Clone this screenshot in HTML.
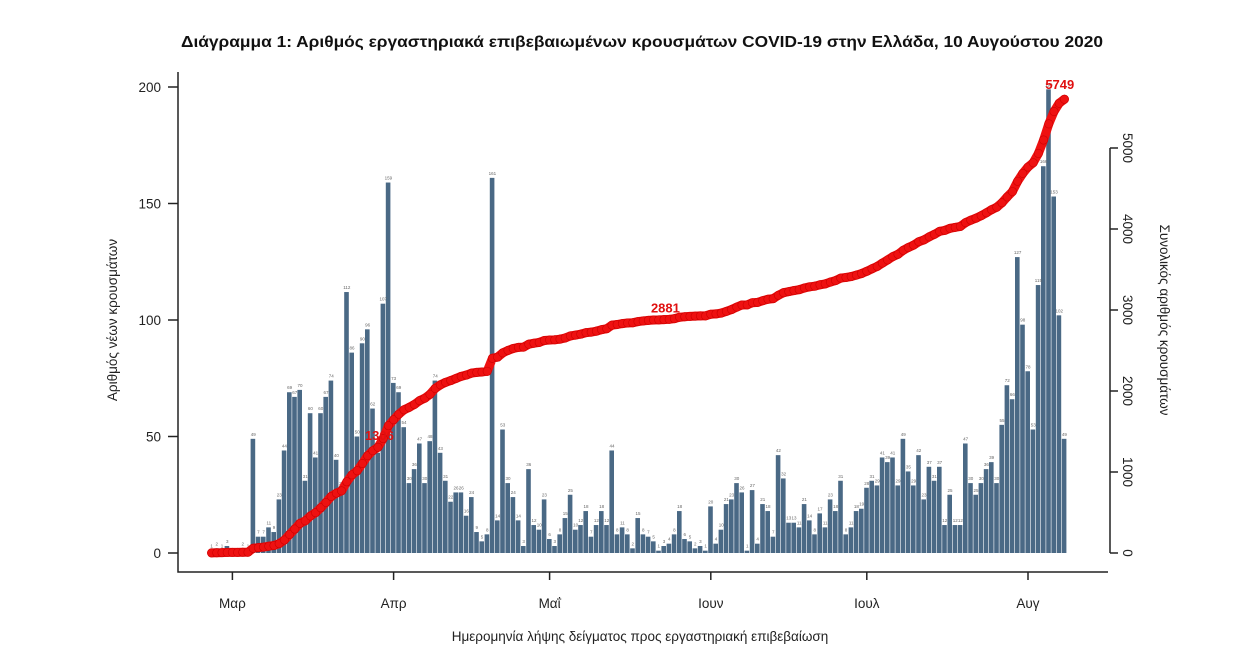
<!DOCTYPE html>
<html><head><meta charset="utf-8"><style>
html,body{margin:0;padding:0;background:#fff;}
svg{display:block;font-family:"Liberation Sans","DejaVu Sans",sans-serif;}
</style></head><body>
<svg id="chart" width="1260" height="669" viewBox="0 0 1260 669" xmlns="http://www.w3.org/2000/svg">
<text x="642" y="47" text-anchor="middle" font-size="15.5" font-weight="bold" fill="#111" textLength="922" lengthAdjust="spacingAndGlyphs">Διάγραμμα 1: Αριθμός εργαστηριακά επιβεβαιωμένων κρουσμάτων COVID-19 στην Ελλάδα, 10 Αυγούστου 2020</text>
<g id="bars"></g>
<g id="barlabels"></g>
<g id="cum"></g>
<g id="axes"></g>
<text transform="translate(117,320) rotate(-90)" text-anchor="middle" font-size="13.5" fill="#222">Αριθμός νέων κρουσμάτων</text>
<text transform="translate(1160,320) rotate(90)" text-anchor="middle" font-size="13.5" fill="#222">Συνολικός αριθμός κρουσμάτων</text>
<text x="640" y="641" text-anchor="middle" font-size="13.5" fill="#222">Ημερομηνία λήψης δείγματος προς εργαστηριακή επιβεβαίωση</text>
</svg>
<script>
const dailyCases = [1,2,1,3,0,0,2,1,
49,7,7,11,9,23,44,69,67,70,31,60,41,60,67,74,40,28,112,
86,50,90,96,62,43,107,159,73,69,54,30,36,47,30,48,74,43,31,22,26,26,16,24,9,5,8,161,
14,53,30,24,14,3,36,12,10,23,6,3,8,15,25,10,12,18,7,12,18,12,44,8,11,8,2,15,8,7,
5,1,3,4,8,18,6,5,2,3,1,20,4,10,21,23,30,26,1,27,4,21,18,7,42,32,13,13,11,21,
14,8,17,11,23,18,31,8,11,18,19,28,31,29,41,39,41,29,49,35,29,42,23,37,31,37,12,25,12,12,
47,30,25,30,36,39,30,55,72,66,127,98,78,53,115,166,199,153,102,49];
const monthLabels = ["Μαρ","Απρ","Μαΐ","Ιουν","Ιουλ","Αυγ"];
const monthStartIndex = [4,35,65,96,126,157];
const leftTicks = [0,50,100,150,200];
const rightTicks = [0,1000,2000,3000,4000,5000];
const cumLabelIndex = [32,87];
const finalTotalLabel = "5749";

const NS="http://www.w3.org/2000/svg";
const X0=209, STEP=5.2, BASE=553;
const xPos=i=>X0+i*STEP;
const yL=v=>BASE-v*2.33;
const yR=c=>BASE-c*0.081;
function mk(tag,attrs,parent){const e=document.createElementNS(NS,tag);for(const k in attrs)e.setAttribute(k,attrs[k]);parent.appendChild(e);return e;}

const gb=document.getElementById('bars'), gl=document.getElementById('barlabels');
dailyCases.forEach((v,i)=>{
  const r=mk('rect',{x:xPos(i),y:yL(v),width:STEP-0.6,height:BASE-yL(v),fill:'#4a6985'},gb);
  
  
  if(v>0){const t=mk('text',{x:xPos(i)+STEP/2,y:yL(v)-3,'text-anchor':'middle','font-size':'4.5',fill:'#666'},gl);
  
  
  t.textContent=v;}
});

const cum=[];let s=0;dailyCases.forEach(v=>{s+=v;cum.push(s);});
const gc=document.getElementById('cum');
const pl=mk('polyline',{points:cum.map((c,i)=>(xPos(i)+STEP/2)+','+yR(c)).join(' '),fill:'none',stroke:'#ee1111','stroke-width':9,'stroke-linejoin':'round','stroke-linecap':'round'},gc);


cum.forEach((c,i)=>{const d=mk('circle',{cx:xPos(i)+STEP/2,cy:yR(c),r:4.2,fill:'#ee1111',stroke:'#c00','stroke-width':0.6},gc);
  
  });
cumLabelIndex.forEach(i=>{const t=mk('text',{x:xPos(i)+4,y:yR(cum[i])-7,'text-anchor':'middle','font-size':'13','font-weight':'bold',fill:'#e01010'},gc);
  
  
  t.textContent=cum[i];});
const last=dailyCases.length-1;
const ft=mk('text',{x:xPos(last)-2,y:yR(cum[last])-10,'text-anchor':'middle','font-size':'13','font-weight':'bold',fill:'#e01010'},gc);


ft.textContent=finalTotalLabel;

const ga=document.getElementById('axes');
const fr=mk('path',{d:'M178,72 L178,572 L1108,572',fill:'none',stroke:'#222','stroke-width':1.5},ga);


leftTicks.forEach(v=>{mk('line',{x1:168,x2:178,y1:yL(v),y2:yL(v),stroke:'#222','stroke-width':1.5},ga);
  const t=mk('text',{x:161,y:yL(v)+5,'text-anchor':'end','font-size':'13.5',fill:'#222'},ga);
  
  
  t.textContent=v;});
const ra=mk('line',{x1:1110,x2:1110,y1:yR(5000),y2:yR(0),stroke:'#222','stroke-width':1.5},ga);


rightTicks.forEach(v=>{mk('line',{x1:1110,x2:1118,y1:yR(v),y2:yR(v),stroke:'#222','stroke-width':1.5},ga);
  const t=mk('text',{transform:'translate(1123,'+yR(v)+') rotate(90)','text-anchor':'middle','font-size':'13.5',fill:'#222'},ga);
  
  
  t.textContent=v;});
monthStartIndex.forEach((idx,k)=>{const x=xPos(idx)+STEP/2;
  mk('line',{x1:x,x2:x,y1:572,y2:580,stroke:'#222','stroke-width':1.5},ga);
  const t=mk('text',{x:x,y:608,'text-anchor':'middle','font-size':'13.5',fill:'#222'},ga);
  
  
  t.textContent=monthLabels[k];});
</script>
</body></html>
